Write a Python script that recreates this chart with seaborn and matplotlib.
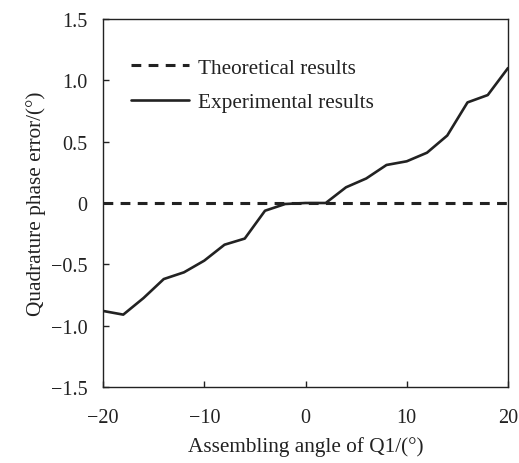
import numpy as np
import pandas as pd
import seaborn as sns
import matplotlib
matplotlib.use("Agg")
import matplotlib.pyplot as plt

angle = [-20, -18, -16, -14, -12, -10, -8, -6, -4, -2, 0, 2, 4, 6, 8, 10, 12, 14, 16, 18, 20]
experimental = [-0.88, -0.91, -0.775, -0.62, -0.565, -0.47, -0.34, -0.29, -0.063, -0.008, 0.0, 0.0,
                0.128, 0.20, 0.31, 0.34, 0.41, 0.55, 0.82, 0.88, 1.10]
theoretical = [0.0] * len(angle)

xticks = [-20, -10, 0, 10, 20]
yticks = [-1.5, -1.0, -0.5, 0, 0.5, 1.0, 1.5]
ytick_labels = ["\u22121.5", "\u22121.0", "\u22120.5", "0", "0.5", "1.0", "1.5"]
xtick_labels = ["\u221220", "\u221210", "0", "10", "20"]

sns.set_theme(style="white")
plt.rcParams['font.family'] = ['Liberation Serif', 'DejaVu Serif']

fig = plt.figure(figsize=(5.19, 4.64), dpi=100)
ax = fig.add_axes([103/519, 1 - 388/464, 405/519, 368/464])

df_t = pd.DataFrame({"x": angle, "y": theoretical})
df_e = pd.DataFrame({"x": angle, "y": experimental})
sns.lineplot(data=df_t, x="x", y="y", ax=ax, color="#222222", lw=2.2,
             linestyle=(0, (3.2, 2.4)), label="Theoretical results")
sns.lineplot(data=df_e, x="x", y="y", ax=ax, color="#222222", lw=1.9,
             label="Experimental results")

ax.set_xlim(-20, 20)
ax.set_ylim(-1.5, 1.5)
ax.set_xticks(xticks)
ax.set_xticklabels(xtick_labels)
ax.set_yticks(yticks)
ax.set_yticklabels(ytick_labels)
ax.tick_params(direction="in", length=4, width=1, colors="#222222", labelsize=14.5,
               bottom=True, left=True, top=False, right=False)
ax.tick_params(axis="x", pad=15)
ax.tick_params(axis="y", pad=11)
for s in ax.spines.values():
    s.set_color("#222222")
    s.set_linewidth(1.0)
ax.set_xlabel("Assembling angle of Q1/(°)", fontsize=15.3, color="#222222", labelpad=7)
ax.set_ylabel("Quadrature phase error/(°)", fontsize=15.3, color="#222222", labelpad=4)
leg = ax.legend(loc="upper left", frameon=False, fontsize=15.3, handlelength=2.7,
                handletextpad=0.45, labelspacing=0.7, bbox_to_anchor=(0.023, 0.947))
for t in leg.get_texts():
    t.set_color("#222222")

fig.savefig("out.png", dpi=100)
